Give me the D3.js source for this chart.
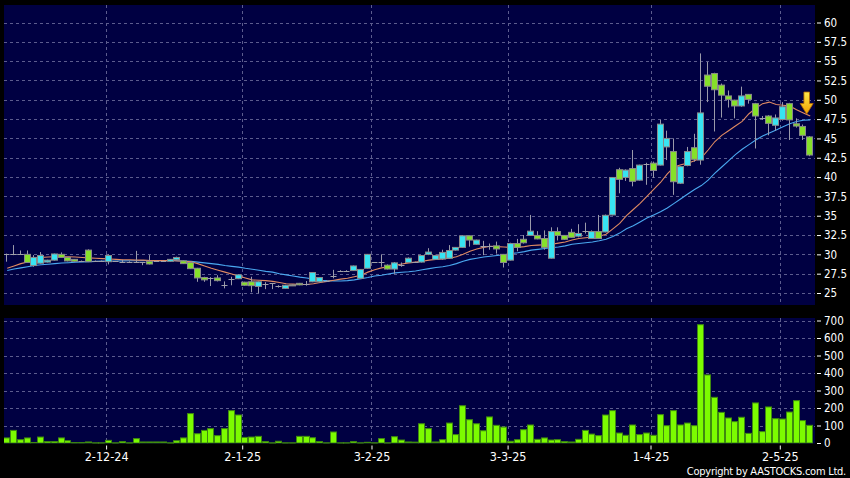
<!DOCTYPE html>
<html><head><meta charset="utf-8">
<script src="https://cdn.jsdelivr.net/npm/d3@7/dist/d3.min.js"></script>
<style>
html,body{margin:0;padding:0;background:#000;}
svg{display:block;}
text{font-family:"DejaVu Sans Condensed","DejaVu Sans",sans-serif;font-stretch:condensed;fill:#fff;}
</style></head><body>
<svg id="chart" width="850" height="478"></svg>
<script>
// ---- data (index 0 = 2 Dec 2024, first bar is index -15) ----
const startIndex = -15;
const openP = [30.0,30.0,30.0,30.0,28.55,28.85,29.0,29.25,30.0,29.6,29.35,29.15,30.55,29.15,29.15,
29.05,29.1,29.05,29.05,29.05,28.95,29.1,29.15,29.15,29.1,29.3,29.15,28.95,28.2,27.0,27.0,26.95,26.05,26.8,26.85,
26.4,26.45,25.85,26.2,26.25,25.85,25.6,26.05,26.25,26.2,26.45,26.45,26.55,27.2,27.9,27.9,27.9,26.9,28.2,
28.95,28.95,28.6,28.1,28.6,28.95,29.0,29.0,30.0,29.35,29.4,29.5,30.55,30.9,32.4,31.3,31.1,31.1,31.1,30.0,
29.25,31.4,31.95,32.45,32.45,32.05,29.5,32.95,32.45,32.85,32.35,33.0,32.05,32.95,32.9,35.1,40.95,39.95,41.1,39.6,41.75,
41.8,41.55,43.9,43.3,39.2,41.5,43.8,42.2,53.2,53.4,51.9,50.5,49.95,49.2,50.7,49.5,47.6,47.9,46.7,
47.45,49.5,46.9,46.55,45.2];
const highP = [30.1,31.2,30.5,30.5,29.9,30.3,29.3,30.1,30.25,29.65,29.4,29.2,30.65,29.2,29.2,
30.0,29.15,29.3,29.1,30.45,29.0,29.9,29.2,29.2,29.4,29.7,29.2,29.0,28.25,27.1,27.05,27.3,26.5,27.1,27.4,
26.45,27.1,26.5,26.4,26.3,26.0,26.05,26.1,26.3,26.55,27.7,27.05,26.6,28.0,27.95,27.95,28.55,28.1,30.05,
29.0,30.0,28.7,29.0,28.95,29.6,29.05,29.9,30.8,29.95,30.6,31.2,30.95,32.45,32.45,31.9,31.75,31.4,31.65,30.05,
31.5,32.0,32.5,35.1,33.0,33.1,33.5,33.5,32.5,33.3,33.9,34.1,33.1,35.1,35.15,40.0,41.2,41.0,43.5,41.6,41.85,
42.0,47.4,46.0,45.0,41.4,43.9,45.6,56.0,54.9,53.5,52.1,51.2,50.0,51.7,50.75,49.6,47.9,48.0,48.1,
49.7,49.6,47.6,46.8,45.3];
const lowP = [29.05,29.9,29.95,28.9,28.4,28.8,28.95,29.2,29.55,29.1,29.05,29.1,29.0,29.1,29.1,
28.7,29.05,28.9,29.0,29.0,28.6,28.7,29.1,29.1,29.05,29.25,28.75,28.1,26.45,26.45,25.9,26.5,25.6,26.0,26.8,
25.95,25.1,24.95,25.5,25.5,25.7,25.55,25.9,26.0,25.95,26.4,26.4,26.5,26.9,27.85,27.85,27.85,26.85,28.15,
28.9,28.4,28.05,27.5,28.4,28.9,28.95,28.95,29.9,29.3,29.3,29.4,30.5,30.85,31.0,31.25,29.9,30.6,30.1,28.3,
29.2,30.4,31.4,32.4,31.95,30.6,29.45,31.8,31.9,32.15,32.2,32.7,32.0,32.0,32.85,35.05,37.9,39.5,38.8,39.55,39.0,
39.9,41.5,42.2,37.7,39.1,41.4,42.0,41.6,49.7,45.9,47.7,49.0,47.6,49.1,49.5,43.7,47.4,45.4,46.0,
47.3,44.8,46.4,44.8,42.7];
const closeP = [30.0,30.0,30.0,28.95,29.6,29.85,29.25,30.05,29.6,29.15,29.1,29.15,29.05,29.15,29.15,
29.85,29.1,29.05,29.05,29.05,28.95,28.75,29.15,29.15,29.35,29.6,28.8,28.15,26.95,26.7,27.0,26.6,26.05,26.8,27.35,
26.0,25.95,26.45,26.2,26.25,25.85,26.0,26.0,26.05,26.2,27.65,27.0,26.55,27.2,27.9,27.9,28.5,28.05,30.0,
28.95,28.95,28.1,28.9,28.6,29.5,29.0,29.85,30.3,29.85,30.25,30.5,30.9,32.4,31.85,31.85,31.1,31.1,30.7,28.95,
31.4,30.9,31.5,33.0,32.0,30.9,32.95,32.45,31.95,32.2,32.7,33.0,32.95,32.05,35.05,39.95,39.7,40.9,39.45,41.55,41.75,
40.85,46.85,45.0,39.4,41.35,43.3,42.3,48.3,51.75,51.3,50.6,50.05,49.2,50.5,50.05,47.9,47.6,46.95,47.65,
49.1,47.4,46.6,45.4,42.85];
const volume = [29,72,19,29,3,34,8,8,29,13,2,2,6,1,1,
15,1,8,1,25,6,6,6,6,1,13,29,168,53,72,82,42,82,185,160,
32,34,38,8,1,10,1,1,38,38,30,8,1,63,1,1,8,1,4,
1,25,1,36,17,6,5,110,82,6,19,114,48,213,133,110,70,149,101,91,
10,19,76,103,21,29,17,19,8,6,21,72,51,42,160,185,57,44,103,48,57,
44,162,99,185,103,114,99,676,389,261,175,143,122,147,55,229,65,206,139,
137,177,242,128,101];
const maShort = [28.2,28.5,28.8,29.0,29.3,29.6,29.65,29.7,29.7,29.7,29.65,29.6,29.55,29.5,29.45,
29.4,29.35,29.3,29.3,29.25,29.25,29.2,29.2,29.2,29.2,29.15,29.1,29.05,28.8,28.5,28.2,27.95,27.7,27.45,27.2,
26.95,26.7,26.65,26.6,26.5,26.35,26.2,26.15,26.1,26.1,26.2,26.35,26.5,26.65,26.8,26.9,27.1,27.3,27.7,
28.0,28.25,28.4,28.6,28.75,28.9,29.0,29.1,29.25,29.35,29.4,29.5,29.7,30.0,30.4,30.7,30.9,31.05,31.0,30.95,
30.9,30.9,31.0,31.15,31.2,31.25,31.3,31.45,31.6,31.85,32.05,32.15,32.25,32.35,32.6,33.3,34.0,35.0,35.8,36.6,37.5,
38.4,39.3,40.4,41.3,41.6,41.8,42.1,42.5,43.5,44.6,45.4,46.0,46.6,47.2,48.2,48.9,49.5,49.7,49.4,
49.3,49.2,48.7,48.3,47.9];
const maLong = [27.9,28.1,28.25,28.4,28.55,28.65,28.72,28.8,28.88,28.92,28.97,29.02,29.06,29.09,29.12,
29.14,29.15,29.16,29.17,29.18,29.19,29.2,29.2,29.2,29.2,29.18,29.15,29.1,29.0,28.9,28.8,28.7,28.55,28.45,28.35,
28.2,28.08,27.95,27.8,27.7,27.5,27.35,27.2,27.05,26.95,26.8,26.65,26.6,26.57,26.55,26.6,26.7,26.85,27.0,
27.2,27.3,27.45,27.6,27.68,27.75,27.85,28.0,28.15,28.3,28.4,28.55,28.8,29.1,29.35,29.5,29.65,29.75,29.85,29.95,
30.1,30.2,30.35,30.55,30.65,30.75,30.85,30.95,31.1,31.3,31.4,31.5,31.6,31.75,31.95,32.3,32.75,33.3,33.7,34.2,34.7,
35.1,35.5,36.0,36.6,37.2,37.8,38.4,38.9,39.6,40.5,41.3,42.1,42.9,43.6,44.2,44.8,45.3,45.7,46.1,
46.5,46.9,47.2,47.35,47.4];
const priceTicks = [25,27.5,30,32.5,35,37.5,40,42.5,45,47.5,50,52.5,55,57.5,60];
const volumeTicks = [0,100,200,300,400,500,600,700];
const monthIdx = [0,20,39,59,80,99];
const monthLabels = ["2-12-24","2-1-25","3-2-25","3-3-25","1-4-25","2-5-25"];
const arrowSpan = [51.0, 48.15];  // price span of the marker arrow

// ---- layout ----
const svg = d3.select("#chart");
const P = {x0:4, x1:815, y0:5, y1:305};
const V = {x0:4, x1:815, y0:318, y1:443.5};
const x = d3.scaleLinear().domain([0,80]).range([109.3,653.7]);
const yP = d3.scaleLinear().domain([25,60]).range([293,22.5]);
const yV = d3.scaleLinear().domain([0,700]).range([443,320.5]);

const bars = openP.map((o,k)=>({i:k+startIndex,o,h:highP[k],l:lowP[k],c:closeP[k],v:volume[k],ms:maShort[k],ml:maLong[k]}));

svg.append("rect").attr("width",850).attr("height",478).attr("fill","#000");
[P,V].forEach(r=>svg.append("rect").attr("x",r.x0).attr("y",r.y0).attr("width",r.x1-r.x0).attr("height",r.y1-r.y0).attr("fill","#000042"));

const defs = svg.append("defs");
defs.append("clipPath").attr("id","cp").append("rect").attr("x",P.x0).attr("y",P.y0).attr("width",P.x1-P.x0).attr("height",P.y1-P.y0);
defs.append("clipPath").attr("id","cv").append("rect").attr("x",V.x0).attr("y",V.y0).attr("width",V.x1-V.x0).attr("height",V.y1-V.y0);
const grad = defs.append("linearGradient").attr("id","ag").attr("x1",0).attr("y1",0).attr("x2",0).attr("y2",1);
grad.append("stop").attr("offset","0%").attr("stop-color","#ffe84a");
grad.append("stop").attr("offset","100%").attr("stop-color","#f0a000");

const gridCol = "#5c5c8e";
const crisp = v => Math.round(v)+0.5;
// grid lines
const gP = svg.append("g").attr("clip-path","url(#cp)");
gP.selectAll(".hg").data(priceTicks).join("line")
  .attr("x1",P.x0).attr("x2",P.x1).attr("y1",d=>crisp(yP(d))).attr("y2",d=>crisp(yP(d)))
  .attr("stroke",gridCol).attr("stroke-dasharray","3,3");
const gV = svg.append("g").attr("clip-path","url(#cv)");
gV.selectAll(".hg").data(volumeTicks.filter(d=>d>0)).join("line")
  .attr("x1",V.x0).attr("x2",V.x1).attr("y1",d=>crisp(yV(d))).attr("y2",d=>crisp(yV(d)))
  .attr("stroke",gridCol).attr("stroke-dasharray","3,3");
[gP,gV].forEach((g,k)=>{
  const r = k? V:P;
  g.selectAll(".vg").data(monthIdx).join("line")
   .attr("x1",d=>crisp(x(d-0.47))).attr("x2",d=>crisp(x(d-0.47)))
   .attr("y1",r.y0).attr("y2",r.y1).attr("stroke",gridCol).attr("stroke-dasharray","3,3");
});

// moving averages
const lineS = d3.line().x(d=>x(d.i)).y(d=>yP(d.ms));
const lineL = d3.line().x(d=>x(d.i)).y(d=>yP(d.ml));
gP.append("path").attr("d",lineL(bars)).attr("fill","none").attr("stroke","#4aa8f0").attr("stroke-width",1.1);
gP.append("path").attr("d",lineS(bars)).attr("fill","none").attr("stroke","#e08a62").attr("stroke-width",1.1);

// candles
const cx = d => Math.round(x(d.i));
const cg = gP.append("g");
cg.selectAll(".wick").data(bars).join("line")
  .attr("x1",d=>cx(d)-0.5).attr("x2",d=>cx(d)-0.5)
  .attr("y1",d=>yP(d.h)).attr("y2",d=>yP(d.l))
  .attr("stroke","#9a9aaa").attr("stroke-width",1);
cg.selectAll(".body").data(bars.filter(d=>d.o!==d.c)).join("rect")
  .attr("x",d=>cx(d)-3.5).attr("width",6)
  .attr("y",d=>yP(Math.max(d.o,d.c))).attr("height",d=>Math.max(1,yP(Math.min(d.o,d.c))-yP(Math.max(d.o,d.c))))
  .attr("fill",d=>d.c>d.o?"#38e4f2":"#86e02a").attr("stroke","#8a8a8a").attr("stroke-width",1);
cg.selectAll(".flat").data(bars.filter(d=>d.o===d.c)).join("line")
  .attr("x1",d=>cx(d)-3.5).attr("x2",d=>cx(d)+2.5)
  .attr("y1",d=>crisp(yP(d.c))).attr("y2",d=>crisp(yP(d.c)))
  .attr("stroke","#a0a0a8").attr("stroke-width",1);

// volume bars
gV.selectAll(".vb").data(bars).join("rect")
  .attr("x",d=>cx(d)-3.5).attr("width",6)
  .attr("y",d=>yV(d.v)).attr("height",d=>Math.max(0.5,yV(0)-yV(d.v)))
  .attr("fill","#7cfc00").attr("stroke","#3f8a10").attr("stroke-width",1);

// arrow marker on the last bar
const last = bars[bars.length-1];
const ax = x(last.i)-3.5, aTop = yP(arrowSpan[0]), aTip = yP(arrowSpan[1]);
const aMid = aTop + (aTip-aTop)*0.52;
svg.append("path")
  .attr("d",`M${ax-2.8},${aTop} L${ax+2.8},${aTop} L${ax+2.8},${aMid} L${ax+6.5},${aMid} L${ax},${aTip} L${ax-6.5},${aMid} L${ax-2.8},${aMid} Z`)
  .attr("fill","url(#ag)").attr("stroke","#b86a00").attr("stroke-width",0.8);

// right axes
const fmt = d => (d%1 ? d.toFixed(1) : String(d));
const axP = svg.append("g").attr("transform",`translate(817,0)`)
  .call(d3.axisRight(yP).tickValues(priceTicks).tickSize(4).tickPadding(3).tickFormat(fmt));
const axV = svg.append("g").attr("transform",`translate(817,0)`)
  .call(d3.axisRight(yV).tickValues(volumeTicks).tickSize(4).tickPadding(3).tickFormat(fmt));
[axP,axV].forEach(a=>{
  a.select(".domain").remove();
  a.selectAll(".tick line").attr("stroke","#fff");
  a.selectAll(".tick text").attr("fill","#fff").style("font-size","11.5px").attr("font-family",null);
});

// date axis
const axD = svg.append("g").attr("transform","translate(0,445.5)")
  .call(d3.axisBottom(x).tickValues(monthIdx.map(d=>d-0.47)).tickSize(4).tickPadding(3)
        .tickFormat((d,k)=>monthLabels[k]));
axD.select(".domain").remove();
axD.selectAll(".tick line").attr("stroke","#fff");
axD.selectAll(".tick text").attr("fill","#fff").style("font-size","12.5px").attr("font-family",null);

svg.append("text").attr("x",846).attr("y",475).attr("text-anchor","end")
  .style("font-size","11px").style("letter-spacing","-0.25px").text("Copyright by AASTOCKS.com Ltd.");
</script>
</body></html>
